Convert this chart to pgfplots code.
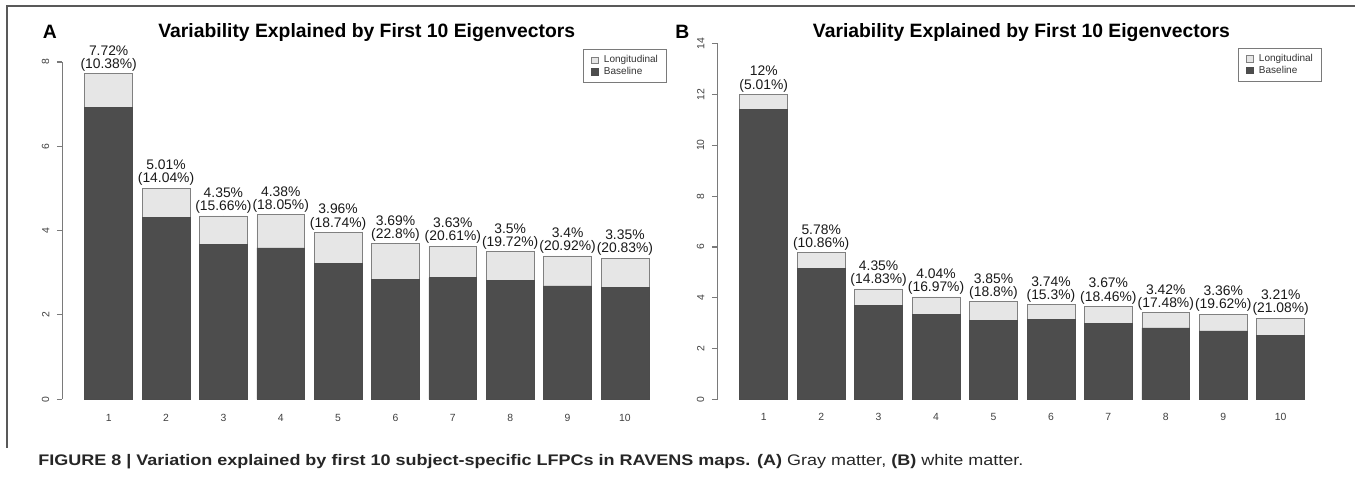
\documentclass[border=0pt]{standalone}
\usepackage{pgfplots}
\pgfplotsset{compat=1.18}
\usepackage{pgfplotstable}
\usepackage{graphicx}
\usepackage{fontspec}
\setmainfont{Liberation Sans}
\definecolor{darkbar}{HTML}{4D4D4D}
\definecolor{lightbar}{HTML}{E6E6E6}
\definecolor{axgray}{HTML}{7A7A7A}

\pgfplotstableread{
i base lng tot pct
1 6.919 0.801 7.72 10.38
2 4.307 0.703 5.01 14.04
3 3.669 0.681 4.35 15.66
4 3.589 0.791 4.38 18.05
5 3.218 0.742 3.96 18.74
6 2.849 0.841 3.69 22.8
7 2.882 0.748 3.63 20.61
8 2.810 0.690 3.5 19.72
9 2.689 0.711 3.4 20.92
10 2.652 0.698 3.35 20.83
}\dataA

\pgfplotstableread{
i base lng tot pct
1 11.399 0.601 12 5.01
2 5.152 0.628 5.78 10.86
3 3.705 0.645 4.35 14.83
4 3.354 0.686 4.04 16.97
5 3.126 0.724 3.85 18.8
6 3.168 0.572 3.74 15.3
7 2.993 0.677 3.67 18.46
8 2.822 0.598 3.42 17.48
9 2.701 0.659 3.36 19.62
10 2.533 0.677 3.21 21.08
}\dataB

\pgfplotsset{
  /pgf/number format/assume math mode=true,
  rpanel/.style={
    scale only axis, anchor=south west,
    xmin=0.19, xmax=10.81, ymin=0,
    enlargelimits=false, clip=false,
    ybar stacked, bar width=0.833,
    axis y line*=left, axis x line*=bottom,
    x axis line style={draw=none},
    y axis line style={axgray, line width=0.8pt},
    xtick={1,...,10},
    xtick style={draw=none},
    ytick style={axgray, line width=0.8pt},
    tick align=outside, major tick length=4pt,
    yticklabel style={rotate=90, anchor=south, inner sep=0pt, yshift=5.5pt,
      font=\fontsize{7.8}{9}\selectfont, text=black!75},
    xticklabel style={anchor=center, inner sep=0pt,
      font=\fontsize{7.8}{9}\selectfont, text=black!75},
    reverse legend,
    legend style={anchor=north east, draw=axgray, line width=0.6pt,
      font=\fontsize{7.5}{8}\selectfont, inner xsep=5.5pt, inner ysep=4pt,
      nodes={inner sep=0.8pt, text=black!80}, cells={anchor=west}, row sep=0pt,
      /tikz/every odd column/.append style={column sep=3.5pt}},
  },
  labpanel/.style={
    scale only axis, anchor=south west,
    xmin=0.19, xmax=10.81, ymin=0,
    enlargelimits=false, clip=false, hide axis,
  },
  toplab/.style={
    only marks, mark=*, mark size=0pt, mark options={draw=none, fill=none},
    point meta=explicit symbolic,
    visualization depends on={\thisrow{pct} \as \pct},
    nodes near coords={\pgfplotspointmeta\%\\(\pgfmathprintnumber[fixed,precision=2,assume math mode=true]{\pct}\%)},
    every node near coord/.append style={align=center, anchor=south,
      inner sep=1pt, yshift=0.6pt, font=\fontsize{10.4}{9.8}\selectfont, text=black!90},
  },
  sqleg/.style={legend image code/.code={\draw[##1, line width=0.5pt] (0pt,-2.5pt) rectangle (5pt,2.5pt);}},
}

\begin{document}
\begin{tikzpicture}
\path[use as bounding box] (0pt,0pt) rectangle (1016.25pt,366pt);
\draw[black!65, line width=1.1pt] (5.25pt,30pt) -- (5.25pt,361.5pt) -- (1016.25pt,361.5pt);

% Panel A
\begin{axis}[rpanel, at={(46.65pt,66.525pt)}, width=456.9pt, height=253.0pt,
  ymax=8, ytick={0,2,4,6,8},
  xticklabel style={yshift=-9.8pt},
  legend style={at={(0.9923,1.0389)}}]
\addplot[fill=darkbar, draw=black!70, line width=0.5pt, sqleg] table[x=i,y=base]{\dataA};
\addlegendentry{Baseline}
\addplot[fill=lightbar, draw=black!50, line width=0.5pt, sqleg] table[x=i,y=lng]{\dataA};
\addlegendentry{Longitudinal}
\end{axis}
\begin{axis}[labpanel, at={(46.65pt,66.525pt)}, width=456.9pt, height=253.0pt, ymax=8]
\addplot[toplab] table[x=i,y=tot,meta=tot]{\dataA};
\end{axis}

% Panel B
\begin{axis}[rpanel, at={(537.9pt,66.225pt)}, width=457.5pt, height=267.2pt,
  ymax=14, ytick={0,2,4,6,8,10,12,14},
  xticklabel style={yshift=-9.1pt},
  legend style={at={(0.991,0.988)}}]
\addplot[fill=darkbar, draw=black!70, line width=0.5pt, sqleg] table[x=i,y=base]{\dataB};
\addlegendentry{Baseline}
\addplot[fill=lightbar, draw=black!50, line width=0.5pt, sqleg] table[x=i,y=lng]{\dataB};
\addlegendentry{Longitudinal}
\end{axis}
\begin{axis}[labpanel, at={(537.9pt,66.225pt)}, width=457.5pt, height=267.2pt, ymax=14]
\addplot[toplab] table[x=i,y=tot,meta=tot]{\dataB};
\end{axis}

% titles and panel letters
\node[anchor=base, font=\fontsize{14.5}{16}\selectfont\bfseries] at (275.1pt,337.9pt) {Variability Explained by First 10 Eigenvectors};
\node[anchor=base, font=\fontsize{14.5}{16}\selectfont\bfseries] at (766.05pt,337.9pt) {Variability Explained by First 10 Eigenvectors};
\node[anchor=base west, inner sep=0pt, font=\fontsize{14.5}{16}\selectfont\bfseries] at (32pt,337.3pt) {A};
\node[anchor=base west, inner sep=0pt, font=\fontsize{14.5}{16}\selectfont\bfseries] at (506.25pt,337.3pt) {B};

% caption
\node[anchor=base west, inner sep=0pt, font=\fontsize{11.5}{13}\selectfont, text=black!85] at (28.5pt,16.7pt)
  {\resizebox{738.75pt}{\height}{\textbf{FIGURE 8 | Variation explained by first 10 subject-specific LFPCs in RAVENS maps. (A)} Gray matter, \textbf{(B)} white matter.}};
\end{tikzpicture}
\end{document}
